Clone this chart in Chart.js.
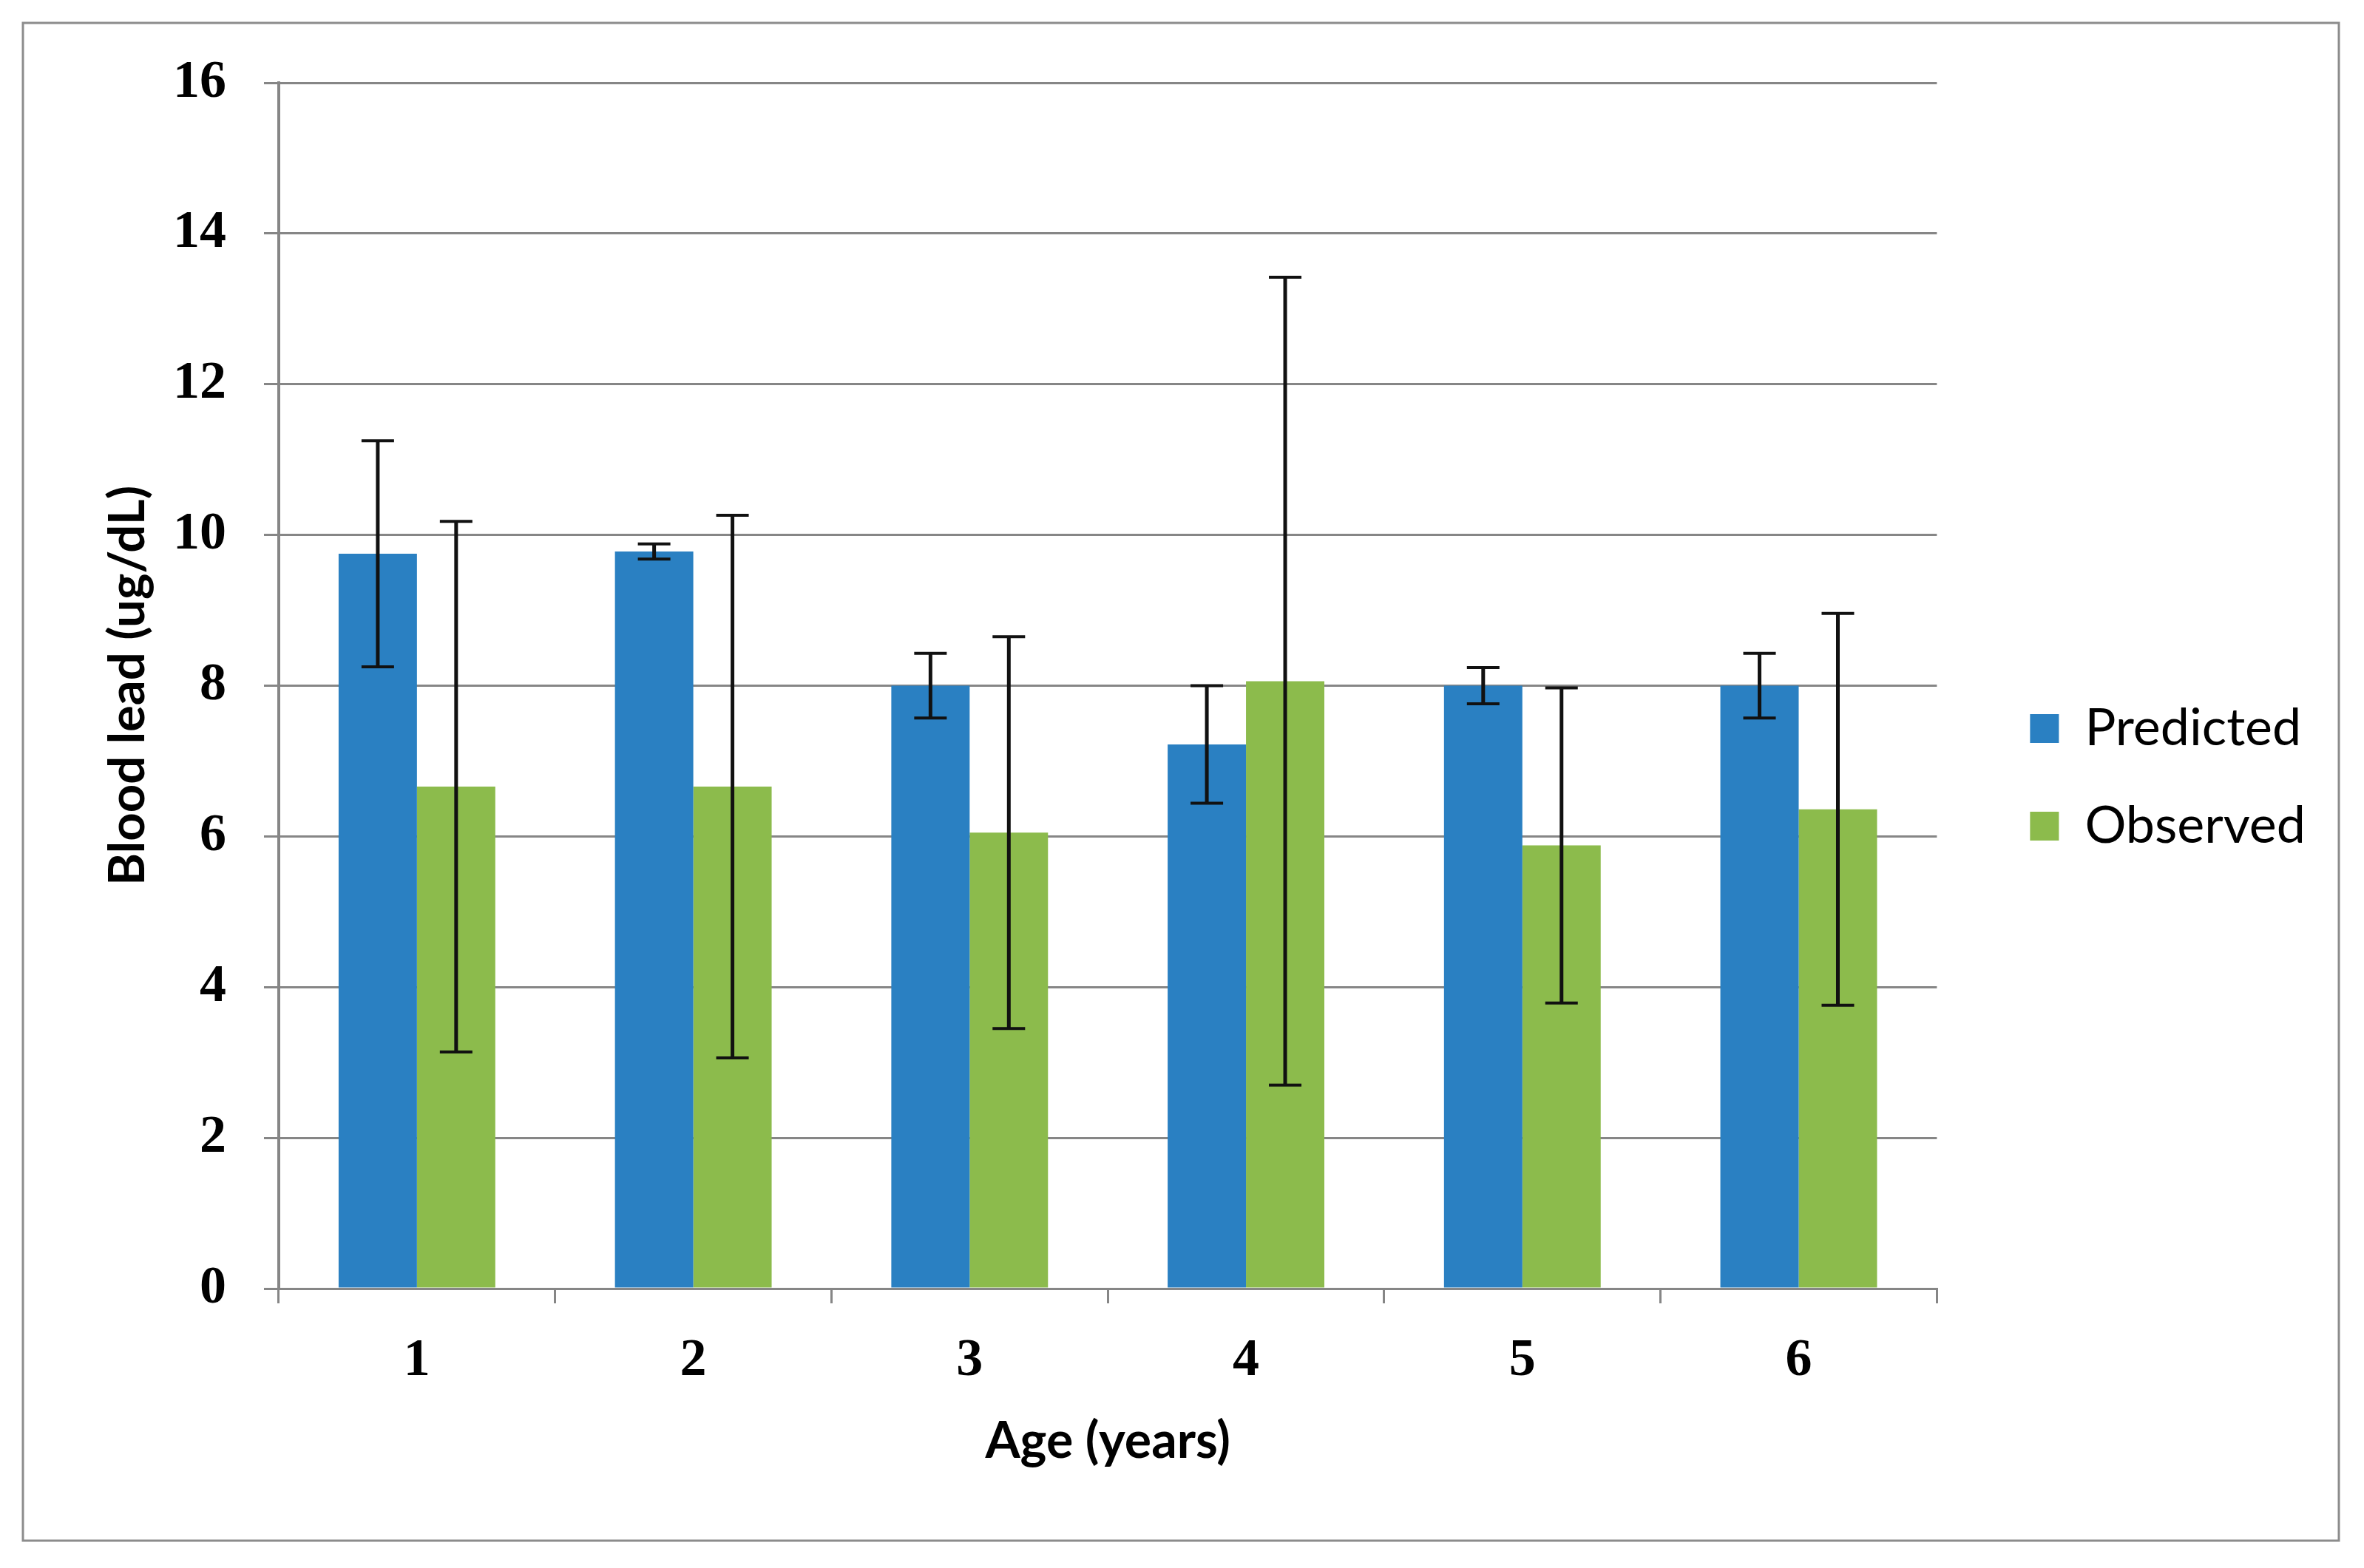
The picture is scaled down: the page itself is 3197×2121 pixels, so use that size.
<!DOCTYPE html>
<html>
<head>
<meta charset="utf-8">
<script src="https://cdn.jsdelivr.net/npm/chart.js@4.4.1/dist/chart.umd.min.js"></script>
<style>
    body { margin: 0; background: #ffffff; }
    canvas { display: block; }
</style>
</head>
<body>
<canvas id="myChart" width="3197" height="2121"></canvas>
<script>
// data
const ages = ["1", "2", "3", "4", "5", "6"]
const predicted = [9.75, 9.78, 8.0, 7.22, 8.0, 8.0]
const predictedErr = [1.5, 0.1, 0.43, 0.78, 0.24, 0.43]
const observed = [6.66, 6.66, 6.05, 8.06, 5.88, 6.36]
const observedErr = [3.52, 3.6, 2.6, 5.36, 2.09, 2.6]
const yTicks = [0, 2, 4, 6, 8, 10, 12, 14, 16]

const gridGrey = '#868686'

// frame round the whole picture
const framePlugin = {
    id: 'frame',
    beforeDraw(chart) {
        let ctx = chart.ctx
        ctx.save()
        ctx.fillStyle = '#ffffff'
        ctx.fillRect(0, 0, chart.width, chart.height)
        ctx.strokeStyle = '#8c8c8c'
        ctx.lineWidth = 3
        ctx.strokeRect(31, 31, 3132, 2053)
        ctx.restore()
    }
}

// error bars, drawn from the y scale
const errorBarPlugin = {
    id: 'errorBars',
    afterDatasetsDraw(chart) {
        let ctx = chart.ctx
        let yScale = chart.scales.y
        chart.data.datasets.forEach(function (ds, i) {
            let meta = chart.getDatasetMeta(i)
            meta.data.forEach(function (bar, j) {
                let v = ds.data[j]
                let e = ds.errors[j]
                let top = yScale.getPixelForValue(v + e)
                let bot = yScale.getPixelForValue(v - e)
                ctx.save()
                ctx.strokeStyle = '#111111'
                ctx.lineWidth = 5
                ctx.beginPath()
                ctx.moveTo(bar.x, top)
                ctx.lineTo(bar.x, bot)
                ctx.stroke()
                ctx.lineWidth = 4
                ctx.beginPath()
                ctx.moveTo(bar.x - 22, top)
                ctx.lineTo(bar.x + 22, top)
                ctx.moveTo(bar.x - 22, bot)
                ctx.lineTo(bar.x + 22, bot)
                ctx.stroke()
                ctx.restore()
            })
        })
    }
}

let data = {
    labels: ages,
    datasets: [
        {
            label: "Predicted",
            data: predicted,
            errors: predictedErr,
            backgroundColor: '#2a80c2',
            borderWidth: 0
        },
        {
            label: "Observed",
            data: observed,
            errors: observedErr,
            backgroundColor: '#8cbb4c',
            borderWidth: 0
        }
    ]
}

const config = {
    type: 'bar',
    data: data,
    options: {
        responsive: false,
        animation: false,
        devicePixelRatio: 1,
        categoryPercentage: 0.567,
        barPercentage: 1,
        layout: {
            padding: { left: 100, top: 112, right: 69, bottom: 130 }
        },
        plugins: {
            tooltip: { enabled: false },
            legend: {
                position: 'right',
                align: 'center',
                labels: {
                    boxWidth: 39,
                    boxHeight: 39,
                    padding: 62,
                    color: '#000000',
                    font: { family: 'Lato', size: 70 }
                }
            }
        },
        scales: {
            x: {
                afterFit(scale) {
                    scale.height = 248
                },
                grid: {
                    display: true,
                    drawOnChartArea: false,
                    drawTicks: true,
                    tickLength: 20,
                    offset: true,
                    color: gridGrey,
                    lineWidth: 3
                },
                border: { display: true, color: gridGrey, width: 3 },
                ticks: {
                    color: '#000000',
                    padding: 35,
                    font: { family: 'Liberation Serif', size: 72, weight: 'bold' }
                },
                title: {
                    display: true,
                    text: 'Age (years)',
                    color: '#000000',
                    padding: { top: 22, bottom: 0 },
                    font: { family: 'Lato', size: 68, weight: 'bold' }
                }
            },
            y: {
                min: 0,
                max: 16,
                afterBuildTicks(scale) {
                    scale.ticks = yTicks.map(v => ({ value: v }))
                },
                afterFit(scale) {
                    scale.width = 277
                },
                grid: {
                    color: gridGrey,
                    lineWidth: 3,
                    tickLength: 20
                },
                border: { display: true, color: gridGrey, width: 4 },
                ticks: {
                    color: '#000000',
                    padding: 51,
                    font: { family: 'Liberation Serif', size: 72, weight: 'bold' }
                },
                title: {
                    display: true,
                    text: 'Blood lead (ug/dL)',
                    color: '#000000',
                    padding: { top: 33, bottom: 21 },
                    font: { family: 'Lato', size: 67, weight: 'bold' }
                }
            },
            gap: {
                type: 'linear',
                position: 'right',
                display: true,
                grid: { display: false },
                border: { display: false },
                ticks: { display: false },
                afterFit(scale) {
                    scale.width = 64
                }
            }
        }
    },
    plugins: [framePlugin, errorBarPlugin]
}

const mychart = new Chart(
    document.getElementById('myChart'),
    config
)
</script>
</body>
</html>
